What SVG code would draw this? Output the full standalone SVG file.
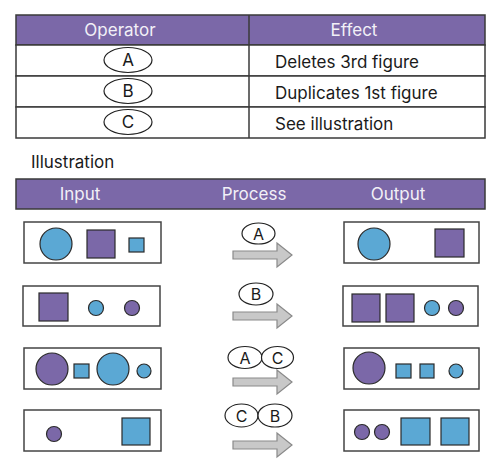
<svg xmlns="http://www.w3.org/2000/svg" width="500" height="472" viewBox="0 0 500 472">
<defs>
<style>
text{font-family:Inter,"Liberation Sans",sans-serif;font-size:17px;fill:#1a1a1a}
.hd{fill:#f2f0f7;text-anchor:middle}
.op{font-size:17px;text-anchor:middle}
.pr{font-size:16px;text-anchor:middle}
.hbar{fill:#7b68a8;stroke:#3a3a3a;stroke-width:1.5}
.cell{fill:#fff;stroke:#3a3a3a;stroke-width:1.5}
.box{fill:#fff;stroke:#444;stroke-width:1.5}
.ell{fill:#fff;stroke:#222;stroke-width:1.2}
.pu{fill:#7b68a8;stroke:#2a2a2a;stroke-width:1.2}
.bl{fill:#5ba8d4;stroke:#2a2a2a;stroke-width:1.2}
.arr{fill:#c8c8c8;stroke:#8a8a8a;stroke-width:1.2}
</style>
<path id="arrow" class="arr" d="M0,-4 H44 V-12 L59,0 L44,12 V4 H0 Z"/>
</defs>

<g id="table">
<rect class="hbar" x="16" y="15" width="469" height="30"/>
<rect class="cell" x="16" y="45" width="469" height="31"/>
<rect class="cell" x="16" y="76" width="469" height="31"/>
<rect class="cell" x="16" y="107" width="469" height="31"/>
<line x1="249" y1="15" x2="249" y2="138" stroke="#3a3a3a" stroke-width="1.5"/>
<text class="hd" x="120" y="36">Operator</text>
<text class="hd" x="354" y="36">Effect</text>
</g>
<g id="op-A"><ellipse class="ell" cx="128" cy="60" rx="24" ry="12.5"/><text class="op" x="128" y="66">A</text></g>
<g id="op-B"><ellipse class="ell" cx="128" cy="91" rx="24" ry="12.5"/><text class="op" x="128" y="97">B</text></g>
<g id="op-C"><ellipse class="ell" cx="128" cy="122" rx="24" ry="12.5"/><text class="op" x="128" y="128">C</text></g>
<g id="effects">
<text x="275" y="68">Deletes 3rd figure</text>
<text x="275" y="99">Duplicates 1st figure</text>
<text x="275" y="130">See illustration</text>
</g>

<text x="31" y="168">Illustration</text>

<g id="ill-header">
<rect class="hbar" x="16" y="179" width="469" height="30"/>
<text class="hd" x="80" y="200">Input</text>
<text class="hd" x="254" y="200">Process</text>
<text class="hd" x="398" y="200">Output</text>
</g>

<!-- Row 1 -->
<g id="in1">
<rect class="box" x="24" y="222" width="137" height="41"/>
<circle class="bl" cx="56" cy="244" r="16"/>
<rect class="pu" x="87" y="230" width="28" height="28"/>
<rect class="bl" x="129" y="238" width="15" height="14"/>
</g>
<g id="out1">
<rect class="box" x="344" y="222" width="135" height="41"/>
<circle class="bl" cx="374" cy="244" r="16"/>
<rect class="pu" x="435" y="229" width="29" height="28"/>
</g>

<!-- Row 2 -->
<g id="in2">
<rect class="box" x="23" y="286" width="137" height="40"/>
<rect class="pu" x="39" y="293" width="29" height="28"/>
<circle class="bl" cx="96" cy="308" r="7.5"/>
<circle class="pu" cx="132" cy="308" r="7.5"/>
</g>
<g id="out2">
<rect class="box" x="343" y="286" width="135" height="40"/>
<rect class="pu" x="352" y="294" width="28" height="28"/>
<rect class="pu" x="386" y="294" width="28" height="28"/>
<circle class="bl" cx="432" cy="308" r="7.5"/>
<circle class="pu" cx="456" cy="308" r="7.5"/>
</g>

<!-- Row 3 -->
<g id="in3">
<rect class="box" x="24" y="348" width="137" height="41"/>
<circle class="pu" cx="52" cy="369" r="16"/>
<rect class="bl" x="74" y="364" width="15" height="14"/>
<circle class="bl" cx="113" cy="369" r="16"/>
<circle class="bl" cx="144" cy="371" r="7"/>
</g>
<g id="out3">
<rect class="box" x="344" y="348" width="135" height="41"/>
<circle class="pu" cx="369" cy="368" r="16"/>
<rect class="bl" x="396" y="364" width="15" height="14"/>
<rect class="bl" x="420" y="364" width="14" height="14"/>
<circle class="bl" cx="456" cy="371" r="7"/>
</g>

<!-- Row 4 -->
<g id="in4">
<rect class="box" x="24" y="410" width="137" height="41"/>
<circle class="pu" cx="54" cy="434" r="7.5"/>
<rect class="bl" x="122" y="418" width="28" height="27"/>
</g>
<g id="out4">
<rect class="box" x="344" y="410" width="135" height="41"/>
<circle class="pu" cx="362" cy="432" r="7.5"/>
<circle class="pu" cx="382" cy="432" r="7.5"/>
<rect class="bl" x="401" y="418" width="29" height="27"/>
<rect class="bl" x="441" y="418" width="28" height="27"/>
</g>

<g id="connectors">
<use href="#arrow" x="233" y="255"/>
<use href="#arrow" x="233" y="316"/>
<use href="#arrow" x="233" y="382"/>
<use href="#arrow" x="233" y="445"/>
</g>

<g id="proc1"><ellipse class="ell" cx="258.5" cy="233.5" rx="16.5" ry="10.5"/><text class="pr" x="258.5" y="239.5">A</text></g>
<g id="proc2"><ellipse class="ell" cx="256" cy="294" rx="17" ry="11"/><text class="pr" x="256" y="300">B</text></g>
<g id="proc3">
<ellipse class="ell" cx="245" cy="357.5" rx="17" ry="11"/><text class="pr" x="245" y="363.5">A</text>
<ellipse class="ell" cx="277.5" cy="357.5" rx="16" ry="11"/><text class="pr" x="277.5" y="363.5">C</text>
</g>
<g id="proc4">
<ellipse class="ell" cx="241.5" cy="415.5" rx="16.5" ry="11.5"/><text class="pr" x="241.5" y="421.5">C</text>
<ellipse class="ell" cx="275" cy="415.5" rx="17" ry="11.5"/><text class="pr" x="275" y="421.5">B</text>
</g>
</svg>
